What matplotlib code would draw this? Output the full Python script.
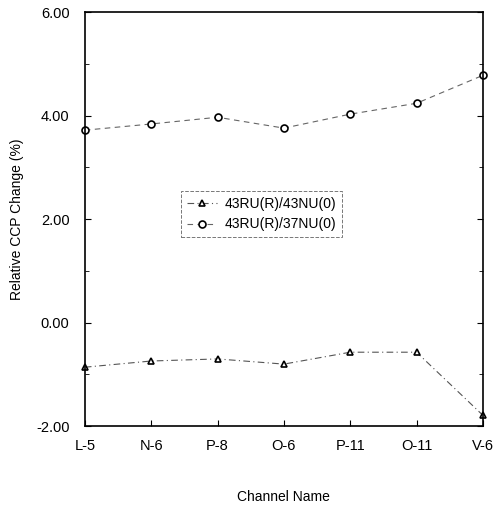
import matplotlib.pyplot as plt
from matplotlib.ticker import MultipleLocator, FormatStrFormatter

plt.rcParams['font.family'] = ['Liberation Sans', 'DejaVu Sans']
plt.rcParams['axes.unicode_minus'] = False

channels = ['L-5', 'N-6', 'P-8', 'O-6', 'P-11', 'O-11', 'V-6']
ratio_43 = [-0.86, -0.74, -0.70, -0.80, -0.57, -0.57, -1.79]
ratio_37 = [3.72, 3.84, 3.97, 3.76, 4.03, 4.24, 4.78]

fig = plt.figure(figsize=(5.02, 5.08), dpi=100)
ax = fig.add_axes([0.169, 0.161, 0.793, 0.815])

x = range(len(channels))
ax.plot(x, ratio_43, color='#555555', lw=0.8, dashes=(6, 3, 1, 3),
        marker='^', ms=5, mfc='white', mec='black', mew=1.2,
        label='43RU(R)/43NU(0)', clip_on=False)
ax.plot(x, ratio_37, color='#666666', lw=0.8, dashes=(5, 4),
        marker='o', ms=5, mfc='white', mec='black', mew=1.2,
        label='43RU(R)/37NU(0)', clip_on=False)

ax.set_xlim(0, 6)
ax.set_ylim(-2, 6)
ax.set_xticks(list(x))
ax.set_xticklabels(channels)
ax.yaxis.set_major_locator(MultipleLocator(2))
ax.yaxis.set_minor_locator(MultipleLocator(1))
ax.yaxis.set_major_formatter(FormatStrFormatter('%.2f'))
ax.tick_params(direction='in', labelsize=10.5, length=4)
ax.tick_params(axis='x', pad=9)
ax.tick_params(axis='y', which='both', right=True, pad=11)
ax.tick_params(which='minor', direction='in', length=3)

for s in ax.spines.values():
    s.set_linewidth(1.2)

ax.set_ylabel('Relative CCP Change (%)', fontsize=10, labelpad=9)
ax.set_xlabel('Channel Name', fontsize=10, labelpad=27)

leg = ax.legend(loc='upper left', bbox_to_anchor=(0.225, 0.585), fontsize=10,
                fancybox=False, edgecolor='#555555', handlelength=2.2,
                borderpad=0.4, labelspacing=0.5, handletextpad=0.5)
leg.get_frame().set_linestyle('--')
leg.get_frame().set_linewidth(0.7)

fig.savefig('out.png', dpi=100)
